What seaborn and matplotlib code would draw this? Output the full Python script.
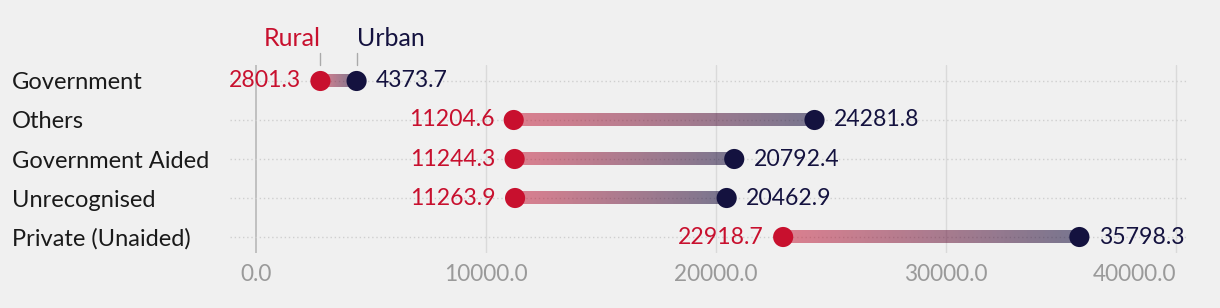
import numpy as np
import pandas as pd
import matplotlib
matplotlib.use("Agg")
import matplotlib.pyplot as plt
from matplotlib.colors import to_rgba
import matplotlib.transforms as mtransforms
import seaborn as sns

categories = ["Government", "Others", "Government Aided", "Unrecognised", "Private (Unaided)"]
rural = [2801.3, 11204.6, 11244.3, 11263.9, 22918.7]
urban = [4373.7, 24281.8, 20792.4, 20462.9, 35798.3]
xticks = [0, 10000, 20000, 30000, 40000]

RURAL_C = "#c8102e"
URBAN_C = "#14123f"
BG = "#f0f0f0"

sns.set_theme(style="white")
plt.rcParams["font.family"] = ["Lato", "DejaVu Sans"]

df = pd.DataFrame({"category": categories, "Rural": rural, "Urban": urban})
df["pos"] = np.arange(len(df))
long = df.melt(id_vars=["category", "pos"], value_vars=["Rural", "Urban"],
               var_name="area", value_name="value")

fig = plt.figure(figsize=(12.2, 3.08), dpi=100, facecolor=BG)
ax = fig.add_axes([230/1220, 1-253/308, (1188-230)/1220, (253-65)/308])
ax.set_facecolor(BG)

# grid
for t in xticks:
    ax.axvline(t, color="#bdbdbd" if t == 0 else "#dadada", lw=1.3 if t == 0 else 1.0, zorder=0)
for p in df["pos"]:
    ax.axhline(p, color="#cfcfcf", lw=1.0, ls=(0, (1, 2)), zorder=0)

# gradient connectors
c0 = np.array(to_rgba(RURAL_C, 0.5))
c1 = np.array(to_rgba(URBAN_C, 0.55))
n = 256
grad = np.array([[c0 + (c1 - c0) * (i / (n - 1)) for i in range(n)]])
h = 0.155
for _, r in df.iterrows():
    ax.imshow(grad, extent=[r["Rural"], r["Urban"], r["pos"] + h, r["pos"] - h],
              aspect="auto", interpolation="bilinear", zorder=2, origin="upper")

sns.scatterplot(data=long, x="value", y="pos", hue="area",
                palette={"Rural": RURAL_C, "Urban": URBAN_C},
                s=210, edgecolor="none", linewidth=0, legend=False, zorder=3, ax=ax)

ax.set_xlim(-1130, 40520)
ax.set_ylim(4.41, -0.41)

VAL_FS = 16.6
# value labels
for _, r in df.iterrows():
    off_l = mtransforms.offset_copy(ax.transData, fig=fig, x=-14, y=0, units="points")
    off_r = mtransforms.offset_copy(ax.transData, fig=fig, x=14, y=0, units="points")
    ax.text(r["Rural"], r["pos"], f"{r['Rural']:.1f}", transform=off_l, ha="right", va="center",
            color=RURAL_C, fontsize=VAL_FS)
    ax.text(r["Urban"], r["pos"], f"{r['Urban']:.1f}", transform=off_r, ha="left", va="center",
            color=URBAN_C, fontsize=VAL_FS)

# legend annotations above first row
r0 = df.iloc[0]
trans = mtransforms.blended_transform_factory(ax.transData, fig.transFigure)
for val, lab, ha, col in [(r0["Rural"], "Rural", "right", RURAL_C),
                          (r0["Urban"], "Urban", "left", URBAN_C)]:
    ax.plot([val, val], [1-53/308, 1-65/308], transform=trans, color="#aaaaaa", lw=1.0,
            clip_on=False)
    ax.text(val, 1-46/308, lab, transform=trans, ha=ha, va="baseline", color=col, fontsize=18)

ax.set_xticks(xticks)
ax.set_xticklabels([f"{t:.1f}" for t in xticks], color="#9a9a9a", fontsize=16.3)
xt = ax.get_xticklabels()
xt[-1].set_horizontalalignment("right")
ax.set_yticks(df["pos"])
ax.set_yticklabels(categories, fontsize=17, color="#1a1a1a", ha="left")
ax.tick_params(axis="y", length=0, pad=(230-12)*0.72)
ax.tick_params(axis="x", length=0, pad=8)
ax.set_xlabel("")
ax.set_ylabel("")
for s in ax.spines.values():
    s.set_visible(False)

fig.savefig("out.png", dpi=100, facecolor=BG)
